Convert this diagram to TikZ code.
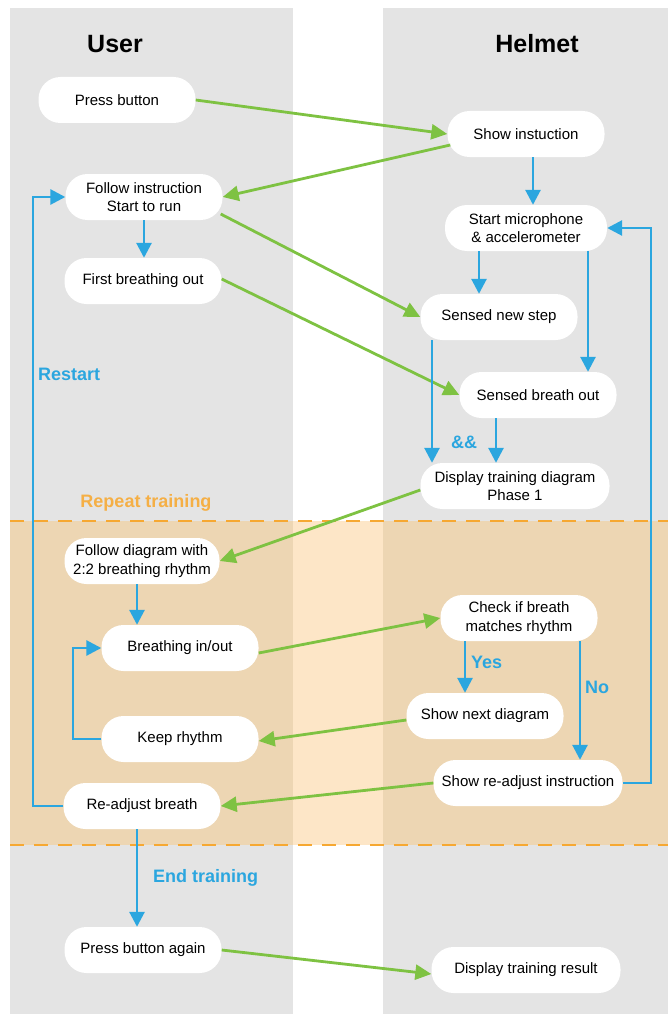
\documentclass[tikz,border=0pt]{standalone}
\usepackage{fontspec}
\setmainfont{Liberation Sans}
\usetikzlibrary{arrows.meta,calc}
\definecolor{bggray}{HTML}{E4E4E4}
\definecolor{bandtan}{HTML}{EDD6B3}
\definecolor{bandlight}{HTML}{FDE6C7}
\definecolor{dashor}{HTML}{F6A832}
\definecolor{lblor}{HTML}{F5AF45}
\definecolor{fblue}{HTML}{2BA6DF}
\definecolor{fgreen}{HTML}{7EC242}
\begin{document}
\begin{tikzpicture}[x=1pt,y=-1pt,
  box/.style={fill=white, rounded corners=22pt, minimum height=46pt, minimum width=157pt,
    align=center, inner sep=0pt, font=\fontsize{15}{18.5}\selectfont},
  widebox/.style={box, minimum width=189pt},
  barrow/.style={draw=fblue, line width=2.8pt, -{Triangle[length=15pt,width=15pt]}},
  garrow/.style={draw=fgreen, line width=2.8pt, -{Triangle[length=16pt,width=15pt]}},
  head/.style={font=\fontsize{25}{30}\selectfont\bfseries},
  blbl/.style={text=fblue, font=\fontsize{18}{22}\selectfont\bfseries, inner sep=0pt},
  olbl/.style={text=lblor, font=\fontsize{18}{22}\selectfont\bfseries, inner sep=0pt},
  dashline/.style={draw=dashor, line width=2.5pt, dash pattern=on 14pt off 10pt}
]
\useasboundingbox (0,0) rectangle (668,1014);
% lanes
\fill[bggray] (10,8) rectangle (293,1014);
\fill[bggray] (383,8) rectangle (668,1014);
% repeat band
\fill[bandtan] (10,521) rectangle (293,845);
\fill[bandlight] (293,521) rectangle (383,845);
\fill[bandtan] (383,521) rectangle (668,845);
\draw[dashline] (10,521) -- (668,521);
\draw[dashline] (10,845) -- (668,845);

% headers
\node[head] (user) at (115,44) {User};
\node[head] (helmet) at (537,44) {Helmet};

% nodes
\node[box] (press) at (117,100) {Press button};
\node[box] (show) at (526,134) {Show instuction};
\node[box] (follow) at (144,197) {Follow instruction\\Start to run};
\node[box, minimum width=162pt] (mic) at (526,228) {Start microphone\\\& accelerometer};
\node[box] (first) at (143,281) {First breathing out};
\node[box] (step) at (499,317) {Sensed new step};
\node[box] (breath) at (538,395) {Sensed breath out};
\node[widebox] (disp) at (515,486) {Display training diagram\\Phase 1};
\node[box, minimum width=155pt] (fdiag) at (142,561) {Follow diagram with\\2:2 breathing rhythm};
\node[box] (bio) at (180,648) {Breathing in/out};
\node[box] (check) at (519,618) {Check if breath\\matches rhythm};
\node[box] (next) at (485,716) {Show next diagram};
\node[box] (keep) at (180,739) {Keep rhythm};
\node[widebox] (readj) at (528,783) {Show re-adjust instruction};
\node[box] (rb) at (142,806) {Re-adjust breath};
\node[box] (pba) at (143,950) {Press button again};
\node[widebox] (dtr) at (526,970) {Display training result};

% green arrows
\draw[garrow] (press.east) -- (show.west);
\draw[garrow] ($(show.west)+(3,11)$) -- (follow.east);
\draw[garrow] ($(follow.east)+(-2,17)$) -- (step.west);
\draw[garrow] ($(first.east)+(0,-2)$) -- (breath.west);
\draw[garrow] ($(disp.west)+(0,4)$) -- (fdiag.east);
\draw[garrow] ($(bio.east)+(0,5)$) -- (check.west);
\draw[garrow] ($(next.west)+(0,4)$) -- ($(keep.east)+(0,2)$);
\draw[garrow] (readj.west) -- (rb.east);
\draw[garrow] (pba.east) -- ($(dtr.west)+(0,4)$);

% blue arrows
\draw[barrow] (show.south -| 533,0) -- (mic.north -| 533,0);
\draw[barrow] (follow.south) -- (follow.south |- first.north);
\draw[barrow] (mic.south -| 479,0) -- (step.north -| 479,0);
\draw[barrow] (mic.south -| 588,0) -- (breath.north -| 588,0);
\draw[barrow] (step.south -| 432,0) -- (disp.north -| 432,0);
\draw[barrow] (breath.south -| 496,0) -- (disp.north -| 496,0);
\draw[barrow] (rb.west) -- (rb.west -| 33,0) |- (follow.west);
\draw[barrow] (readj.east) -- (readj.east -| 651,0) |- (mic.east);
\draw[barrow] (fdiag.south -| 137,0) -- (bio.north -| 137,0);
\draw[barrow] (keep.west) -- (keep.west -| 73,0) |- (bio.west);
\draw[barrow] (check.south -| 465,0) -- (next.north -| 465,0);
\draw[barrow] (check.south -| 580,0) -- (readj.north -| 580,0);
\draw[barrow] (rb.south -| 137,0) -- (pba.north -| 137,0);

% labels
\node[blbl, anchor=west] (restart) at (38,374) {Restart};
\node[blbl] (andand) at (464,442) {\&\&};
\node[olbl] (repeat) at (146,503) {Repeat training};
\node[blbl, anchor=west] (yes) at (471,662) {Yes};
\node[blbl, anchor=west] (no) at (585,687) {No};
\node[blbl, anchor=west] (endt) at (153,878) {End training};
\end{tikzpicture}
\end{document}
